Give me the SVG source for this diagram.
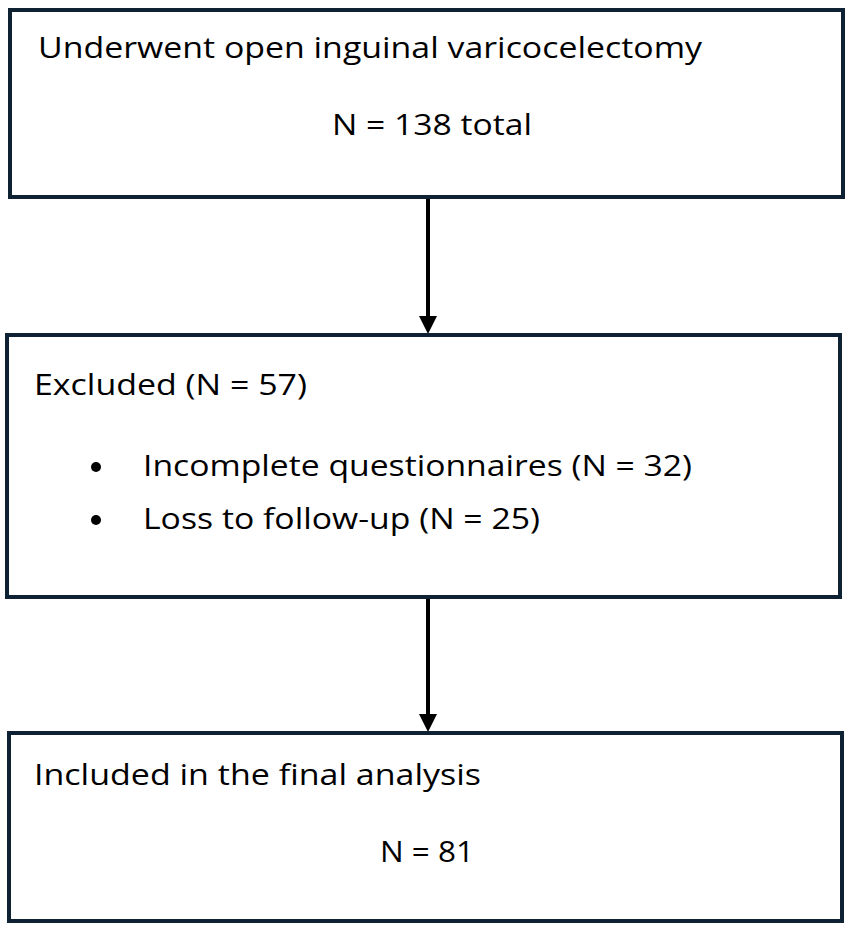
<svg xmlns="http://www.w3.org/2000/svg" width="853" height="933" viewBox="0 0 853 933">
<defs>
<style>
.box{fill:#fff;stroke:#0f2233;stroke-width:4}
.t{font-family:"Open Sans","Liberation Sans",sans-serif;font-size:29px;fill:#000}
.c{stroke:#000;stroke-width:4;fill:none}
</style>
<marker id="ah" markerWidth="10" markerHeight="8" refX="9" refY="4" orient="auto" markerUnits="userSpaceOnUse" viewBox="0 0 10 8"><path d="M0,0 L10,4 L0,8 z" fill="#000"/></marker>
</defs>
<rect width="853" height="933" fill="#fff"/>
<g id="connectors">
<line class="c" x1="428" y1="197" x2="428" y2="318"/>
<path d="M419,316 L437,316 L428,334 z" fill="#000"/>
<line class="c" x1="428" y1="597" x2="428" y2="716"/>
<path d="M419,714 L437,714 L428,732 z" fill="#000"/>
</g>
<g id="n1">
<rect class="box" x="10" y="10" width="833" height="187"/>
<text class="t" x="38" y="58" textLength="664" lengthAdjust="spacingAndGlyphs">Underwent open inguinal varicocelectomy</text>
<text class="t" x="332" y="135" textLength="200" lengthAdjust="spacingAndGlyphs">N = 138 total</text>
</g>
<g id="n2">
<rect class="box" x="7" y="335" width="833" height="262"/>
<text class="t" x="34" y="395" textLength="273" lengthAdjust="spacingAndGlyphs">Excluded (N = 57)</text>
<circle cx="96" cy="467" r="5" fill="#000"/>
<circle cx="96" cy="520" r="5" fill="#000"/>
<text class="t" x="143" y="476" textLength="549" lengthAdjust="spacingAndGlyphs">Incomplete questionnaires (N = 32)</text>
<text class="t" x="143" y="529" textLength="397" lengthAdjust="spacingAndGlyphs">Loss to follow-up (N = 25)</text>
</g>
<g id="n3">
<rect class="box" x="9" y="733" width="833" height="188"/>
<text class="t" x="34" y="785" textLength="447" lengthAdjust="spacingAndGlyphs">Included in the final analysis</text>
<text class="t" x="380" y="862" textLength="94" lengthAdjust="spacingAndGlyphs">N = 81</text>
</g>
</svg>
